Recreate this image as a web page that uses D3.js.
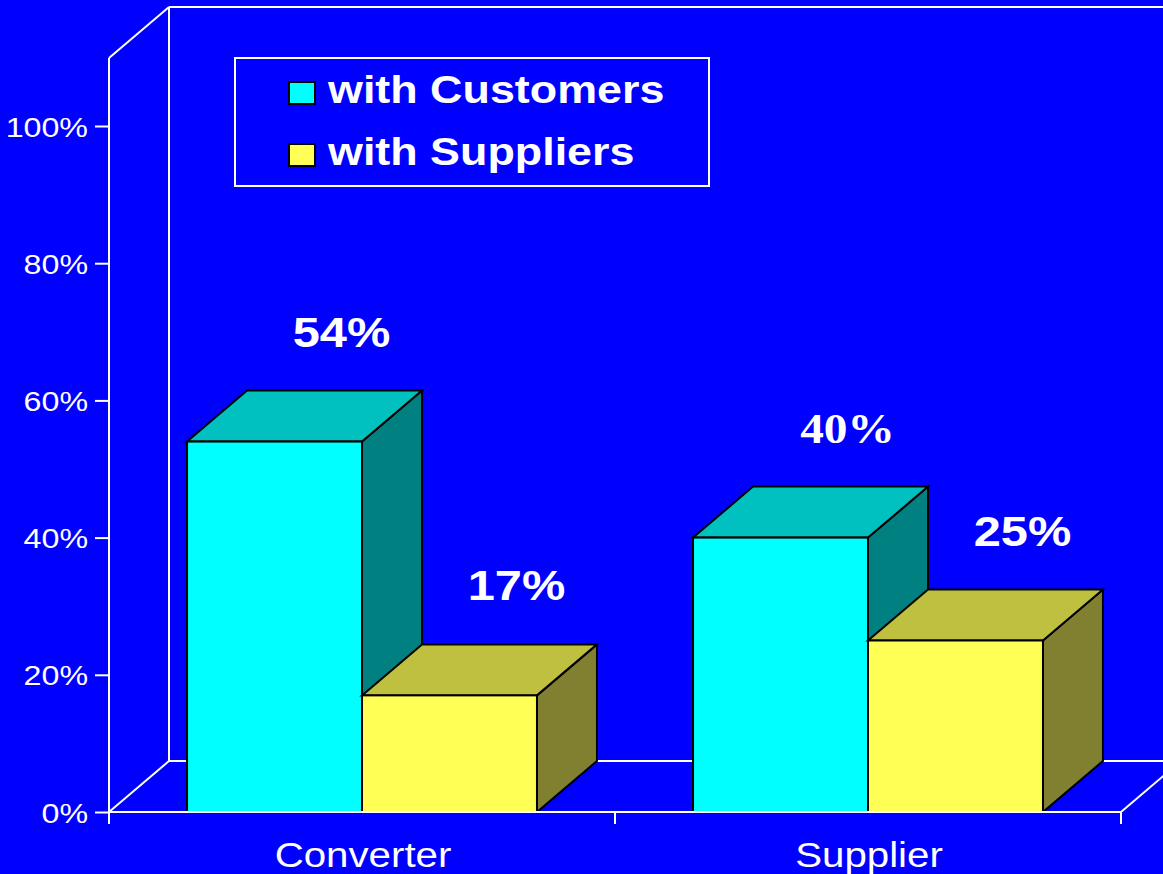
<!DOCTYPE html>
<html>
<head>
<meta charset="utf-8">
<script src="https://cdn.jsdelivr.net/npm/d3@7"></script>
<style>
  html, body { margin: 0; padding: 0; background: #0000ff; overflow: hidden; }
  svg { display: block; }
</style>
</head>
<body>
<svg id="chart" width="1163" height="874"></svg>
<script>
// Share of relationships, by respondent type
const categories = ["Converter", "Supplier"];
const seriesNames = ["with Customers", "with Suppliers"];
const withCustomers = [54, 40];
const withSuppliers = [17, 25];
const yTicks = [0, 20, 40, 60, 80, 100];

const seriesValues = [withCustomers, withSuppliers];

// Face colours: front, top, side
const palette = {
  "with Customers": { front: "#00ffff", top: "#00c0c0", side: "#008080" },
  "with Suppliers": { front: "#ffff55", top: "#c0c040", side: "#808030" }
};

const W = 1163, H = 874;
const STRETCH = 1.15;           // slightly wide lettering
const sans = "Liberation Sans, Arial, sans-serif";
const serif = "Liberation Serif, Times New Roman, serif";

// 3-D depth offset
const DX = 60, DY = -51;

const svg = d3.select("#chart");
svg.append("rect").attr("width", W).attr("height", H).attr("fill", "#0000ff");

const y = d3.scaleLinear().domain([0, 100]).range([812, 126]);
const x0 = d3.scaleBand().domain(categories).range([109, 1121]).padding(0);
const x1 = d3.scaleBand().domain(seriesNames).range([0, x0.bandwidth()])
  .paddingInner(0).paddingOuter(0.446);

const plotLeft = x0.range()[0], plotRight = x0.range()[1];
const wallTop = y(100) - 68;   // top edge of the walls
const base = y(0);

// ---- frame: back wall and floor ----
const frame = svg.append("g").attr("stroke", "#fff").attr("stroke-width", 2).attr("fill", "none");
// back wall
frame.append("line").attr("x1", plotLeft + DX).attr("y1", wallTop + DY).attr("x2", plotLeft + DX).attr("y2", base + DY);
frame.append("line").attr("x1", plotLeft + DX).attr("y1", wallTop + DY).attr("x2", W + 10).attr("y2", wallTop + DY);
frame.append("line").attr("x1", plotLeft).attr("y1", wallTop).attr("x2", plotLeft + DX).attr("y2", wallTop + DY);
// floor
frame.append("line").attr("x1", plotLeft + DX).attr("y1", base + DY).attr("x2", W + 10).attr("y2", base + DY);
frame.append("line").attr("x1", plotLeft).attr("y1", base).attr("x2", plotLeft + DX).attr("y2", base + DY);
frame.append("line").attr("x1", plotRight).attr("y1", base).attr("x2", plotRight + DX).attr("y2", base + DY);

// ---- bars ----
const bars = svg.append("g").attr("stroke", "#000").attr("stroke-width", 2).attr("stroke-linejoin", "miter");
const pts = a => a.map(p => p.join(",")).join(" ");

categories.forEach((cat, ci) => {
  seriesNames.forEach((s, si) => {
    const v = seriesValues[si][ci];
    const xa = x0(cat) + x1(s);
    const xb = xa + x1.bandwidth();
    const yt = y(v), yb = y(0);
    const c = palette[s];
    // side face
    bars.append("polygon").attr("fill", c.side)
      .attr("points", pts([[xb, yb], [xb, yt], [xb + DX, yt + DY], [xb + DX, yb + DY]]));
    // top face
    bars.append("polygon").attr("fill", c.top)
      .attr("points", pts([[xa, yt], [xb, yt], [xb + DX, yt + DY], [xa + DX, yt + DY]]));
    // front face
    bars.append("rect").attr("fill", c.front)
      .attr("x", xa).attr("y", yt).attr("width", xb - xa).attr("height", yb - yt);
  });
});

// ---- axes ----
// y axis drawn with d3.axisLeft, styled as white
const yAxis = svg.append("g").attr("transform", `translate(${plotLeft},0)`)
  .call(d3.axisLeft(y).tickValues(yTicks).tickSize(14).tickPadding(7).tickFormat(d => d + "%"));
yAxis.select(".domain").remove();
yAxis.selectAll(".tick line").attr("stroke", "#fff").attr("stroke-width", 2);
yAxis.selectAll(".tick text").remove();
yAxis.selectAll(".tick").each(function(d) {
  d3.select(this).append("g")
    .attr("transform", `translate(-21,10) scale(${STRETCH},1)`)
    .append("text")
    .attr("text-anchor", "end")
    .attr("fill", "#fff")
    .attr("font-family", sans)
    .attr("font-size", 28)
    .text(d + "%");
});
// vertical front edge of the y axis
svg.append("line").attr("x1", plotLeft).attr("x2", plotLeft)
  .attr("y1", wallTop).attr("y2", base + 12)
  .attr("stroke", "#fff").attr("stroke-width", 2);

// x axis
const xAxis = svg.append("g").attr("transform", `translate(0,${base})`);
xAxis.append("line").attr("x1", plotLeft).attr("x2", plotRight).attr("y1", 0).attr("y2", 0)
  .attr("stroke", "#fff").attr("stroke-width", 2);
[plotLeft, ...categories.slice(1).map(c => x0(c)), plotRight].forEach(px => {
  xAxis.append("line").attr("x1", px).attr("x2", px).attr("y1", 0).attr("y2", 12)
    .attr("stroke", "#fff").attr("stroke-width", 2);
});
categories.forEach(cat => {
  xAxis.append("g")
    .attr("transform", `translate(${x0(cat) + x0.bandwidth() / 2 + 1},55) scale(${STRETCH},1)`)
    .append("text")
    .attr("text-anchor", "middle")
    .attr("fill", "#fff")
    .attr("font-family", sans)
    .attr("font-size", 35)
    .text(cat);
});

// ---- value labels ----
categories.forEach((cat, ci) => {
  seriesNames.forEach((s, si) => {
    const v = seriesValues[si][ci];
    const cx = x0(cat) + x1(s) + x1.bandwidth() / 2 + DX + 7;
    const cy = y(v) + DY - 44;
    const isSerif = (cat === "Supplier" && s === "with Customers");
    svg.append("g")
      .attr("transform", `translate(${cx},${cy}) scale(${isSerif ? 1.1 : 1.16},1)`)
      .append("text")
      .attr("text-anchor", "middle")
      .attr("fill", "#fff")
      .attr("font-weight", "bold")
      .attr("font-family", isSerif ? serif : sans)
      .attr("font-size", isSerif ? 43 : 42)
      .text(v + "%");
  });
});

// ---- legend ----
const legend = svg.append("g").attr("transform", "translate(235,58)");
legend.append("rect").attr("width", 474).attr("height", 128)
  .attr("fill", "none").attr("stroke", "#fff").attr("stroke-width", 2);
seriesNames.forEach((s, i) => {
  const row = legend.append("g").attr("transform", `translate(54,${24 + i * 62})`);
  row.append("rect").attr("width", 26).attr("height", 22)
    .attr("fill", palette[s].front).attr("stroke", "#000").attr("stroke-width", 2);
  row.append("g").attr("transform", `translate(39,21) scale(${STRETCH},1)`)
    .append("text")
    .attr("fill", "#fff")
    .attr("font-weight", "bold")
    .attr("font-family", sans)
    .attr("font-size", 39)
    .text(s);
});
</script>
</body>
</html>
